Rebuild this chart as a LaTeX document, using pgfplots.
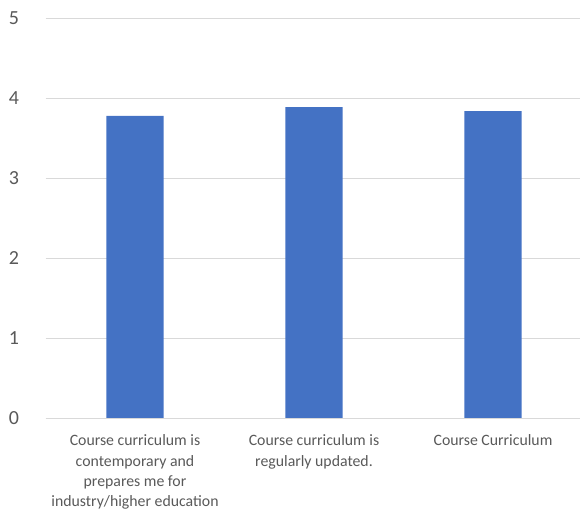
\documentclass[border=0pt]{standalone}
\usepackage{pgfplots}
\pgfplotsset{compat=1.18}
\usepackage{fontspec}
\setmainfont{Carlito}
\definecolor{barblue}{HTML}{4472C4}
\definecolor{gridgray}{HTML}{D9D9D9}
\definecolor{txtgray}{HTML}{595959}
\begin{document}
\begin{tikzpicture}
\path[use as bounding box] (-45.5bp,-93.7bp) rectangle (534.5bp,418.3bp);
\begin{axis}[
  at={(0,0)}, anchor=south west,
  scale only axis, width=534.5bp, height=400bp,
  xmin=-0.5, xmax=2.486, ymin=0, ymax=5,
  axis line style={draw=none},
  axis x line*=bottom,
  ytick={0,1,2,3,4,5},
  ymajorgrids, grid style={gridgray, line width=1.2bp},
  major tick length=0pt,
  xtick={0,1,2},
  xticklabels={{Course curriculum is\\contemporary and\\prepares me for\\industry/higher education},{Course curriculum is\\regularly updated.},{Course Curriculum}},
  xticklabel style={font=\fontsize{15.8bp}{20.3bp}\selectfont, text=txtgray, align=center, anchor=north, inner sep=0pt, yshift=-16.5bp},
  yticklabel style={font=\fontsize{20bp}{20bp}\selectfont, text=txtgray, anchor=center, xshift=-31.5bp},
  /pgf/number format/assume math mode=true,
  clip=false,
]
\addplot[ybar, bar width=0.32, fill=barblue, draw=none] coordinates {(0,3.78) (1,3.89) (2,3.84)};
\draw[gridgray, line width=1.2bp] (axis cs:-0.5,0) -- (axis cs:2.486,0);
\end{axis}
\end{tikzpicture}
\end{document}
